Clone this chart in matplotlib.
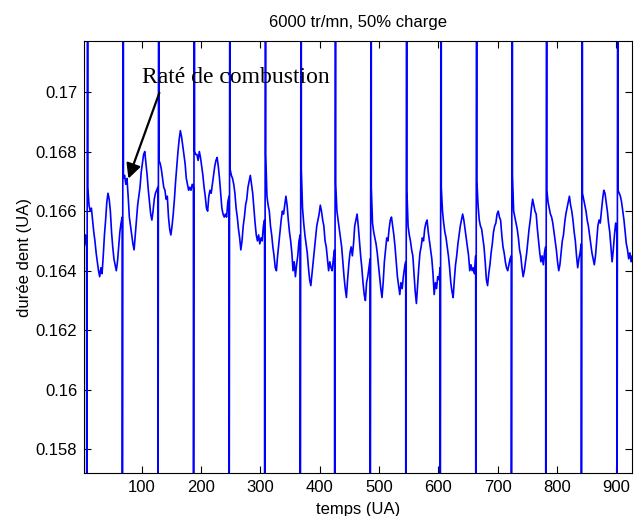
import numpy as np
import matplotlib.pyplot as plt

BLEU = '#0000FF'
NOIR = '#000000'

plt.rcParams.update({
    'font.family': 'Liberation Sans',
    'font.size': 12,
    'axes.linewidth': 0.8,
    'figure.facecolor': 'white',
})

# ---------------------------- données relevées -------------------------------
# durée de dent, un point tous les 2 (temps 3, 5, ..., 927)
temps = np.arange(3, 928, 2)
duree = [
    # avant le 1er pic
    0.1648, 0.1652, 0.1648,
    # pic 8 -> 68
    0.1668, 0.1662, 0.1660, 0.1661, 0.1657, 0.1653, 0.1650, 0.1646, 0.1643, 0.1640,
    0.1638, 0.1641, 0.1639, 0.1645, 0.1652, 0.1657, 0.1663, 0.1666, 0.1664, 0.1660,
    0.1653, 0.1648, 0.1644, 0.1642, 0.1640, 0.1643, 0.1648, 0.1653, 0.1656, 0.1658,
    # pic 68 -> 128 (raté de combustion)
    0.1671, 0.1672, 0.1669, 0.1671, 0.1665, 0.1658, 0.1655, 0.1652, 0.1649, 0.1647,
    0.1652, 0.1657, 0.1662, 0.1665, 0.1668, 0.1673, 0.1676, 0.1679, 0.1680, 0.1676,
    0.1672, 0.1667, 0.1663, 0.1659, 0.1657, 0.1660, 0.1664, 0.1666, 0.1667, 0.1668,
    # pic 128 -> 188
    0.1677, 0.1676, 0.1674, 0.1671, 0.1668, 0.1667, 0.1664, 0.1665, 0.1658, 0.1654,
    0.1652, 0.1655, 0.1659, 0.1664, 0.1670, 0.1675, 0.1680, 0.1684, 0.1687, 0.1685,
    0.1682, 0.1679, 0.1676, 0.1671, 0.1669, 0.1667, 0.1668, 0.1667, 0.1669, 0.1668,
    # pic 188 -> 248
    0.1680, 0.1679, 0.1679, 0.1677, 0.1680, 0.1678, 0.1675, 0.1672, 0.1668, 0.1665,
    0.1661, 0.1660, 0.1665, 0.1667, 0.1666, 0.1669, 0.1672, 0.1675, 0.1677, 0.1678,
    0.1675, 0.1671, 0.1666, 0.1661, 0.1659, 0.1658, 0.1659, 0.1658, 0.1663, 0.1665,
    # pic 248 -> 308
    0.1674, 0.1672, 0.1671, 0.1669, 0.1666, 0.1661, 0.1658, 0.1654, 0.1651, 0.1647,
    0.1650, 0.1655, 0.1658, 0.1662, 0.1664, 0.1668, 0.1670, 0.1672, 0.1669, 0.1666,
    0.1661, 0.1656, 0.1652, 0.1650, 0.1652, 0.1649, 0.1651, 0.1650, 0.1655, 0.1657,
    # pic 308 -> 368
    0.1679, 0.1665, 0.1662, 0.1660, 0.1655, 0.1652, 0.1648, 0.1645, 0.1641, 0.1640,
    0.1645, 0.1649, 0.1653, 0.1657, 0.1660, 0.1659, 0.1662, 0.1665, 0.1662, 0.1657,
    0.1653, 0.1650, 0.1646, 0.1640, 0.1643, 0.1638, 0.1642, 0.1645, 0.1650, 0.1652,
    # pic 368 -> 426
    0.1674, 0.1661, 0.1656, 0.1652, 0.1649, 0.1646, 0.1641, 0.1637, 0.1635, 0.1639,
    0.1643, 0.1647, 0.1651, 0.1655, 0.1657, 0.1659, 0.1662, 0.1660, 0.1657, 0.1655,
    0.1650, 0.1648, 0.1644, 0.1640, 0.1643, 0.1641, 0.1640, 0.1644, 0.1647,
    # pic 426 -> 486
    0.1669, 0.1660, 0.1657, 0.1654, 0.1651, 0.1648, 0.1643, 0.1638, 0.1634, 0.1631,
    0.1637, 0.1642, 0.1646, 0.1648, 0.1645, 0.1649, 0.1655, 0.1657, 0.1659, 0.1655,
    0.1650, 0.1645, 0.1641, 0.1636, 0.1632, 0.1630, 0.1636, 0.1638, 0.1641, 0.1644,
    # pic 486 -> 546
    0.1668, 0.1656, 0.1653, 0.1651, 0.1649, 0.1646, 0.1642, 0.1638, 0.1634, 0.1631,
    0.1636, 0.1643, 0.1647, 0.1651, 0.1650, 0.1654, 0.1657, 0.1658, 0.1655, 0.1652,
    0.1648, 0.1643, 0.1638, 0.1635, 0.1632, 0.1636, 0.1634, 0.1638, 0.1641, 0.1643,
    # pic 546 -> 604
    0.1667, 0.1655, 0.1652, 0.1650, 0.1647, 0.1645, 0.1639, 0.1633, 0.1629, 0.1635,
    0.1641, 0.1646, 0.1648, 0.1651, 0.1650, 0.1654, 0.1656, 0.1657, 0.1653, 0.1650,
    0.1647, 0.1644, 0.1639, 0.1632, 0.1636, 0.1634, 0.1638, 0.1637, 0.1641,
    # pic 604 -> 664
    0.1668, 0.1660, 0.1656, 0.1653, 0.1651, 0.1648, 0.1645, 0.1641, 0.1636, 0.1633,
    0.1631, 0.1637, 0.1642, 0.1645, 0.1649, 0.1652, 0.1655, 0.1657, 0.1659, 0.1657,
    0.1654, 0.1651, 0.1648, 0.1645, 0.1640, 0.1642, 0.1640, 0.1641, 0.1639, 0.1645,
    # pic 664 -> 724
    0.1670, 0.1662, 0.1657, 0.1655, 0.1654, 0.1651, 0.1648, 0.1643, 0.1637, 0.1635,
    0.1639, 0.1642, 0.1646, 0.1649, 0.1653, 0.1655, 0.1656, 0.1659, 0.1660, 0.1658,
    0.1657, 0.1652, 0.1648, 0.1646, 0.1643, 0.1641, 0.1640, 0.1642, 0.1644, 0.1645,
    # pic 724 -> 782
    0.1672, 0.1660, 0.1658, 0.1656, 0.1654, 0.1651, 0.1647, 0.1645, 0.1641, 0.1638,
    0.1640, 0.1643, 0.1646, 0.1650, 0.1654, 0.1657, 0.1661, 0.1664, 0.1662, 0.1660,
    0.1659, 0.1654, 0.1650, 0.1646, 0.1643, 0.1645, 0.1642, 0.1646, 0.1648,
    # pic 782 -> 842
    0.1667, 0.1663, 0.1661, 0.1659, 0.1658, 0.1656, 0.1653, 0.1650, 0.1647, 0.1643,
    0.1640, 0.1642, 0.1646, 0.1650, 0.1652, 0.1656, 0.1659, 0.1661, 0.1663, 0.1665,
    0.1662, 0.1660, 0.1657, 0.1653, 0.1650, 0.1645, 0.1641, 0.1644, 0.1646, 0.1649,
    # pic 842 -> 902
    0.1666, 0.1664, 0.1662, 0.1660, 0.1657, 0.1655, 0.1652, 0.1649, 0.1646, 0.1644,
    0.1642, 0.1645, 0.1650, 0.1655, 0.1657, 0.1656, 0.1660, 0.1664, 0.1667, 0.1666,
    0.1663, 0.1660, 0.1656, 0.1653, 0.1648, 0.1643, 0.1647, 0.1652, 0.1656, 0.1653,
    # après le dernier pic
    0.1667, 0.1666, 0.1665, 0.1663, 0.1660, 0.1657, 0.1653, 0.1649, 0.1647, 0.1644,
    0.1646, 0.1643, 0.1645,
]

# pics (top tour) : la mesure part hors échelle en bas puis en haut
pics = [8, 68, 128, 188, 248, 308, 368, 426, 486, 546, 604, 664, 724, 782, 842, 902]
pic_bas = 0.150
pic_haut = 0.185

y_ticks = [0.158, 0.160, 0.162, 0.164, 0.166, 0.168, 0.170]
y_labels = ['0.158', '0.16', '0.162', '0.164', '0.166', '0.168', '0.17']
x_ticks = [100, 200, 300, 400, 500, 600, 700, 800, 900]

assert len(duree) == len(temps)

# ---------------------------- courbe ----------------------------------------
pics_arr = np.array(pics, dtype=float)
x = np.concatenate([temps, pics_arr - 0.85, pics_arr + 0.85])
y = np.concatenate([duree, np.full(len(pics), pic_bas), np.full(len(pics), pic_haut)])
ordre = np.argsort(x, kind='stable')

fig = plt.figure(figsize=(6.36, 5.16), dpi=100)
ax = fig.add_axes([0.1325, 0.0827, 0.8607, 0.8373])
ax.plot(x[ordre], y[ordre], color=BLEU, lw=1.2)

ax.set_xlim(3, 926)
ax.set_ylim(0.1572, 0.1717)
ax.set_xticks(x_ticks)
ax.set_yticks(y_ticks)
ax.set_yticklabels(y_labels)
ax.tick_params(direction='in', top=True, right=True, length=5, width=0.8,
               labelsize=12, colors=NOIR, pad=5)

ax.set_title('6000 tr/mn, 50% charge', fontsize=12, pad=10)
ax.set_xlabel('temps (UA)', fontsize=12, labelpad=5)
ax.set_ylabel('durée dent (UA)', fontsize=12, labelpad=3)

# annotation du raté
ax.text(100, 0.17030, 'Raté de combustion', family='Liberation Serif',
        fontsize=17, va='baseline', ha='left', color=NOIR)
ax.annotate('', xy=(77.4, 0.16709), xytext=(129.6, 0.16997),
            arrowprops=dict(arrowstyle='-|>', color=NOIR, lw=1.6,
                            mutation_scale=22, shrinkA=0, shrinkB=0))

fig.savefig('out.png', dpi=100)
